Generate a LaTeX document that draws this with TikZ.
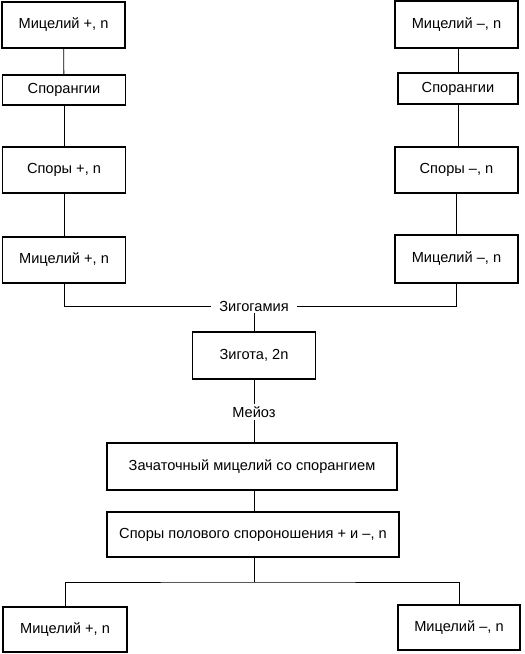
\documentclass[tikz,border=0pt]{standalone}
\usepackage{fontspec}
\setmainfont{Liberation Sans}
\begin{document}
\begin{tikzpicture}[x=1pt,y=-1pt,
  box/.style={draw, line width=1.4pt, minimum width=123pt, minimum height=46pt, inner sep=0pt, font=\fontsize{14.6}{17}\selectfont},
  lab/.style={inner sep=2pt, font=\fontsize{14.6}{17}\selectfont},
  conn/.style={line width=0.8pt}]
\useasboundingbox (0,0) rectangle (525,654);
% left column
\node[box] (l1) at (63.5,25) {Мицелий +, n};
\node[box, minimum height=30pt] (l2) at (64,90) {Спорангии};
\node[box] (l3) at (64,170) {Споры +, n};
\node[box] (l4) at (64,260) {Мицелий +, n};
% right column
\node[box, minimum height=47pt] (r1) at (456.5,24.5) {Мицелий –, n};
\node[box, minimum width=120pt, minimum height=31pt] (r2) at (458,88.5) {Спорангии};
\node[box] (r3) at (456.5,170) {Споры –, n};
\node[box, minimum height=48pt] (r4) at (456.5,259) {Мицелий –, n};
% centre
\node[lab] (zig) at (254,306) {Зигогамия};
\node[box, minimum height=47pt] (zyg) at (254,355.5) {Зигота, 2n};
\node[lab] (mei) at (254,412) {Мейоз};
\node[box, minimum width=290pt, minimum height=47pt] (zach) at (252,466.5) {Зачаточный мицелий со спорангием};
\node[box, minimum width=292pt, minimum height=45pt] (spor) at (253,534.5) {Споры полового спороношения + и –, n};
\coordinate (split) at (254,582);
\node[box, minimum width=124pt, minimum height=45pt] (bl) at (65,629.5) {Мицелий +, n};
\node[box, minimum width=122pt, minimum height=45pt] (br) at (459,627.5) {Мицелий –, n};
% connectors
\draw[conn] (l1) -- (l2);
\draw[conn] (l2) -- (l3);
\draw[conn] (l3) -- (l4);
\draw[conn] (r1.south -| r2) -- (r2);
\draw[conn] (r2) -- (r3.north -| r2);
\draw[conn] (r3) -- (r4);
\draw[conn] (l4.south) |- ([xshift=-6pt]zig.west);
\draw[conn] (r4.south) |- ([xshift=6pt]zig.east);
\draw[conn] (zig.south) -- (zyg.north);
\draw[conn] (zyg.south) -- (mei.north);
\draw[conn] (mei.south) -- (mei.south |- zach.north);
\draw[conn] (zach.south -| mei) -- (spor.north -| mei);
\draw[conn] (spor.south -| split) -- (split);
\draw[conn] (bl.north) |- (split) -| (br.north);
\end{tikzpicture}
\end{document}
